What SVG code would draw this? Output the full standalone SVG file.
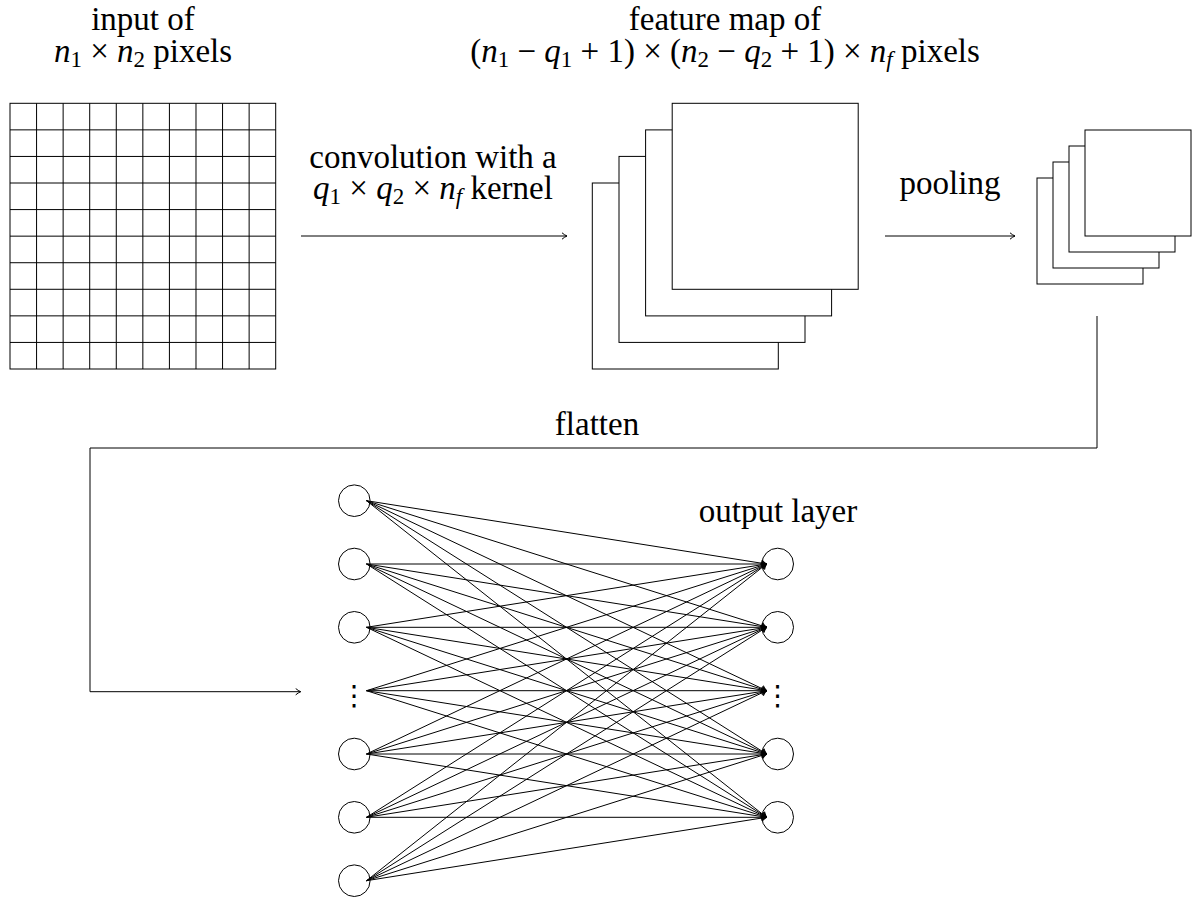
<svg xmlns="http://www.w3.org/2000/svg" width="1194" height="898" viewBox="0 0 1194 898">
<style>
  text { font-family: "Liberation Serif", "Times New Roman", serif; font-size: 33px; fill: #000; }
  .c { text-anchor: middle; }
  .i { font-style: italic; }
  .s { font-size: 23px; }
  .ln { fill: none; stroke: #000; stroke-width: 1; }
  .box { fill: #fff; stroke: #000; stroke-width: 1; }
  .nd { fill: #fff; stroke: #000; stroke-width: 1; }
  .e { stroke: #000; stroke-width: 1; marker-end: url(#arr); }
  .dots { font-family: "DejaVu Sans", sans-serif; font-size: 28px; text-anchor: middle; fill: #000; }
</style>
<defs>
  <marker id="arr" viewBox="0 0 6 8" refX="5.5" refY="4" markerWidth="6" markerHeight="8" markerUnits="userSpaceOnUse" orient="auto">
    <path d="M0.5,0.8 Q3,3 5.5,4 Q3,5 0.5,7.2" fill="none" stroke="#000" stroke-width="1"/>
  </marker>
</defs>
<rect width="1194" height="898" fill="#fff"/>

<g id="labels">
  <text class="c" x="143" y="30">input of</text>
  <text class="c" x="143" y="62"><tspan class="i">n</tspan><tspan class="s" dy="5">1</tspan><tspan dy="-5"> × </tspan><tspan class="i">n</tspan><tspan class="s" dy="5">2</tspan><tspan dy="-5"> pixels</tspan></text>
  <text class="c" x="725" y="30">feature map of</text>
  <text class="c" x="725" y="62">(<tspan class="i">n</tspan><tspan class="s" dy="5">1</tspan><tspan dy="-5"> − </tspan><tspan class="i">q</tspan><tspan class="s" dy="5">1</tspan><tspan dy="-5"> + 1) × (</tspan><tspan class="i">n</tspan><tspan class="s" dy="5">2</tspan><tspan dy="-5"> − </tspan><tspan class="i">q</tspan><tspan class="s" dy="5">2</tspan><tspan dy="-5"> + 1) × </tspan><tspan class="i">n</tspan><tspan class="s i" dy="5">f</tspan><tspan dy="-5"> pixels</tspan></text>
  <text class="c" x="433" y="168">convolution with a</text>
  <text class="c" x="433" y="199"><tspan class="i">q</tspan><tspan class="s" dy="5">1</tspan><tspan dy="-5"> × </tspan><tspan class="i">q</tspan><tspan class="s" dy="5">2</tspan><tspan dy="-5"> × </tspan><tspan class="i">n</tspan><tspan class="s i" dy="5">f</tspan><tspan dy="-5"> kernel</tspan></text>
  <text class="c" x="950" y="194">pooling</text>
  <text class="c" x="597" y="435">flatten</text>
  <text class="c" x="778" y="522">output layer</text>
</g>

<g id="input-grid">
  <rect class="box" x="10" y="103.3" width="265.7" height="265.7"/>
  <path class="ln" d="M36.57,103.3V369M63.14,103.3V369M89.71,103.3V369M116.28,103.3V369M142.85,103.3V369M169.42,103.3V369M195.99,103.3V369M222.56,103.3V369M249.13,103.3V369
  M10,129.87H275.7M10,156.44H275.7M10,183.01H275.7M10,209.58H275.7M10,236.15H275.7M10,262.72H275.7M10,289.29H275.7M10,315.86H275.7M10,342.43H275.7"/>
</g>

<g id="feature-maps">
  <rect class="box" x="592.3" y="183" width="186" height="186"/>
  <rect class="box" x="619" y="156.4" width="186" height="186"/>
  <rect class="box" x="645.6" y="129.9" width="186" height="186"/>
  <rect class="box" x="672.2" y="103.3" width="186" height="186"/>
</g>

<g id="pooled-maps">
  <rect class="box" x="1037" y="178" width="106" height="106"/>
  <rect class="box" x="1053" y="162" width="106" height="106"/>
  <rect class="box" x="1069" y="146" width="106" height="106"/>
  <rect class="box" x="1085" y="130" width="106" height="106"/>
</g>

<g id="input-layer">
  <circle class="nd" cx="354.3" cy="500.7" r="15.8"/>
  <circle class="nd" cx="354.3" cy="564" r="15.8"/>
  <circle class="nd" cx="354.3" cy="627.3" r="15.8"/>
  <text class="dots" x="354.3" y="705">⋮</text>
  <circle class="nd" cx="354.3" cy="754" r="15.8"/>
  <circle class="nd" cx="354.3" cy="817.3" r="15.8"/>
  <circle class="nd" cx="354.3" cy="880.7" r="15.8"/>
</g>

<g id="output-layer">
  <circle class="nd" cx="777.7" cy="564" r="15.8"/>
  <circle class="nd" cx="777.7" cy="627.3" r="15.8"/>
  <text class="dots" x="777.7" y="705">⋮</text>
  <circle class="nd" cx="777.7" cy="754" r="15.8"/>
  <circle class="nd" cx="777.7" cy="817.3" r="15.8"/>
</g>

<g id="connectors">
  <path class="ln" d="M301,236H567" marker-end="url(#arr)"/>
  <path class="ln" d="M885,236H1015" marker-end="url(#arr)"/>
  <path class="ln" d="M1097,316V448H90V691.7H300.7" marker-end="url(#arr)"/>
  <g id="edges">
    <line class="e" x1="366.5" y1="500.7" x2="766.5" y2="564"/>
    <line class="e" x1="366.5" y1="500.7" x2="766.5" y2="627.3"/>
    <line class="e" x1="366.5" y1="500.7" x2="766.5" y2="690.7"/>
    <line class="e" x1="366.5" y1="500.7" x2="766.5" y2="754"/>
    <line class="e" x1="366.5" y1="500.7" x2="766.5" y2="817.3"/>
    <line class="e" x1="366.5" y1="564" x2="766.5" y2="564"/>
    <line class="e" x1="366.5" y1="564" x2="766.5" y2="627.3"/>
    <line class="e" x1="366.5" y1="564" x2="766.5" y2="690.7"/>
    <line class="e" x1="366.5" y1="564" x2="766.5" y2="754"/>
    <line class="e" x1="366.5" y1="564" x2="766.5" y2="817.3"/>
    <line class="e" x1="366.5" y1="627.3" x2="766.5" y2="564"/>
    <line class="e" x1="366.5" y1="627.3" x2="766.5" y2="627.3"/>
    <line class="e" x1="366.5" y1="627.3" x2="766.5" y2="690.7"/>
    <line class="e" x1="366.5" y1="627.3" x2="766.5" y2="754"/>
    <line class="e" x1="366.5" y1="627.3" x2="766.5" y2="817.3"/>
    <line class="e" x1="366.5" y1="690.7" x2="766.5" y2="564"/>
    <line class="e" x1="366.5" y1="690.7" x2="766.5" y2="627.3"/>
    <line class="e" x1="366.5" y1="690.7" x2="766.5" y2="690.7"/>
    <line class="e" x1="366.5" y1="690.7" x2="766.5" y2="754"/>
    <line class="e" x1="366.5" y1="690.7" x2="766.5" y2="817.3"/>
    <line class="e" x1="366.5" y1="754" x2="766.5" y2="564"/>
    <line class="e" x1="366.5" y1="754" x2="766.5" y2="627.3"/>
    <line class="e" x1="366.5" y1="754" x2="766.5" y2="690.7"/>
    <line class="e" x1="366.5" y1="754" x2="766.5" y2="754"/>
    <line class="e" x1="366.5" y1="754" x2="766.5" y2="817.3"/>
    <line class="e" x1="366.5" y1="817.3" x2="766.5" y2="564"/>
    <line class="e" x1="366.5" y1="817.3" x2="766.5" y2="627.3"/>
    <line class="e" x1="366.5" y1="817.3" x2="766.5" y2="690.7"/>
    <line class="e" x1="366.5" y1="817.3" x2="766.5" y2="754"/>
    <line class="e" x1="366.5" y1="817.3" x2="766.5" y2="817.3"/>
    <line class="e" x1="366.5" y1="880.7" x2="766.5" y2="564"/>
    <line class="e" x1="366.5" y1="880.7" x2="766.5" y2="627.3"/>
    <line class="e" x1="366.5" y1="880.7" x2="766.5" y2="690.7"/>
    <line class="e" x1="366.5" y1="880.7" x2="766.5" y2="754"/>
    <line class="e" x1="366.5" y1="880.7" x2="766.5" y2="817.3"/>
  </g>
</g>
</svg>
